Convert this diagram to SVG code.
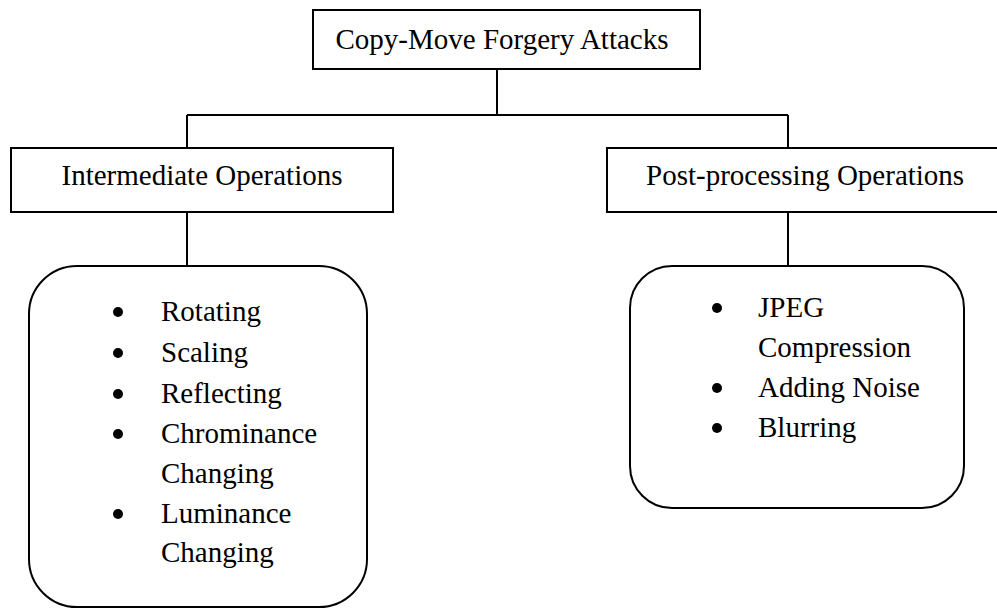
<svg xmlns="http://www.w3.org/2000/svg" width="997" height="608" viewBox="0 0 997 608">
<style>
.box{fill:#fff;stroke:#000;stroke-width:2}
.ln{fill:none;stroke:#000;stroke-width:2}
text{font-family:"Liberation Serif","Times New Roman",serif;font-size:29px;fill:#000}
.c{text-anchor:middle}
.b{fill:#000}
</style>
<rect width="997" height="608" fill="#fff"/>
<g id="connectors">
<path class="ln" d="M497 69 V115 M187 115 H788 M187 115 V148 M788 115 V148 M187 212 V266 M788 212 V266"/>
</g>
<g id="root">
<rect class="box" x="313" y="10" width="387" height="59"/>
<text class="c" x="502" y="49">Copy-Move Forgery Attacks</text>
</g>
<g id="intermediate">
<rect class="box" x="11" y="148" width="382" height="64"/>
<text class="c" x="202" y="185">Intermediate Operations</text>
</g>
<g id="postprocessing">
<rect class="box" x="607" y="148" width="395" height="64"/>
<text x="646" y="185">Post-processing Operations</text>
</g>
<g id="intermediate-list">
<rect class="box" x="29" y="266" width="338" height="341" rx="48" ry="48"/>
<circle class="b" cx="118" cy="312" r="5"/>
<circle class="b" cx="118" cy="353" r="5"/>
<circle class="b" cx="118" cy="394" r="5"/>
<circle class="b" cx="118" cy="434" r="5"/>
<circle class="b" cx="118" cy="514" r="5"/>
<text x="161" y="321">Rotating</text>
<text x="161" y="362">Scaling</text>
<text x="161" y="403">Reflecting</text>
<text x="161" y="443">Chrominance</text>
<text x="161" y="483">Changing</text>
<text x="161" y="523">Luminance</text>
<text x="161" y="562">Changing</text>
</g>
<g id="postprocessing-list">
<rect class="box" x="630" y="266" width="334" height="242" rx="42" ry="42"/>
<circle class="b" cx="717" cy="308" r="5"/>
<circle class="b" cx="717" cy="388" r="5"/>
<circle class="b" cx="717" cy="428" r="5"/>
<text x="758" y="317">JPEG</text>
<text x="758" y="357">Compression</text>
<text x="758" y="397">Adding Noise</text>
<text x="758" y="437">Blurring</text>
</g>
</svg>
